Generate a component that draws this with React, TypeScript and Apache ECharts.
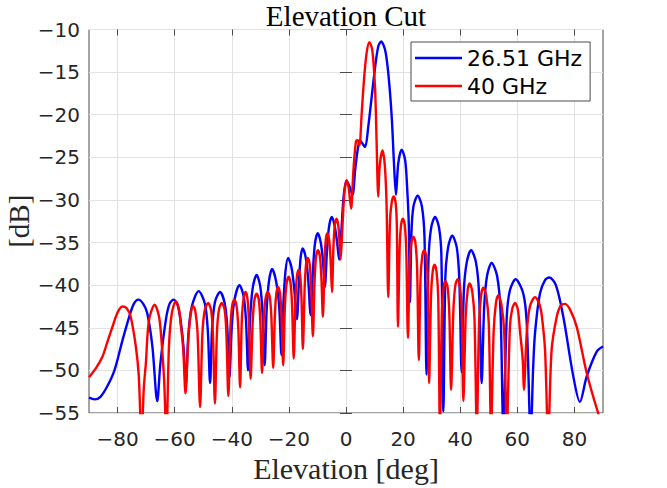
import React, { useEffect, useRef } from "react";
import * as echarts from "echarts";

const xTicks = [-80, -60, -40, -20, 0, 20, 40, 60, 80];
const yMin = -55;
const yMax = -10;
const yStep = 5;
const titleText = "Elevation Cut";
const xName = "Elevation [deg]";
const yName = "[dB]";
const seriesNames = ["26.51 GHz", "40 GHz"];

// 26.51 GHz cut, [deg, dB]
const blue: number[][] = [
  [-90, -53.2], [-88, -53.4], [-86, -53.1], [-83.5, -51.8], [-81, -49.9], [-78.3, -46.5],
  [-76, -43.8], [-74.3, -42.2], [-72.7, -41.7], [-71, -42.2], [-69.6, -43.3], [-67.8, -47.2],
  [-66.1, -53.6], [-65, -49.2], [-63.1, -44.1], [-61.8, -42.2], [-60.4, -41.7], [-59, -42.3],
  [-57.9, -44.2], [-56.9, -47.3], [-56.1, -51.8],
  [-55.2, -45.8], [-54, -42.5], [-51.6, -40.7], [-49.4, -42.2], [-48.4, -45.3], [-47.6, -51.5],
  [-46.9, -45.2], [-45.9, -42], [-44.1, -40.8], [-42.5, -42.1], [-41.6, -44.8], [-40.8, -50.8],
  [-40.1, -45.5], [-39.2, -42], [-37.3, -40], [-35.8, -41.4], [-35, -44.3], [-34.3, -50],
  [-33.6, -44], [-32.7, -40.4], [-31.3, -38.8], [-30, -40.2], [-29.2, -43.5], [-28.5, -49.4],
  [-27.8, -43], [-27, -39.6], [-25.9, -38.1], [-24.5, -39.5], [-23.4, -42.5], [-22.6, -48.2],
  [-21.9, -42], [-21.2, -38.4], [-20.3, -36.8], [-19.1, -37.9], [-18.1, -40.5], [-17.2, -44],
  [-16.5, -39.8], [-15.9, -36.8], [-15.2, -35.7], [-14.2, -36.6], [-13.3, -39], [-12.4, -43.5],
  [-11.6, -38.5], [-10.9, -35.2], [-9.9, -33.9], [-8.9, -34.9], [-8.1, -37], [-7.4, -40.2],
  [-6.7, -36.2], [-6, -33.3], [-5, -32], [-4, -33], [-3.1, -35], [-2.4, -37],
  [-1.6, -33.5], [-0.8, -29.5], [0.2, -27.7], [1.2, -28.4], [2.3, -29.4], [3.2, -26.5],
  [4.1, -24.1], [4.9, -23], [5.8, -23.4], [6.7, -23.8], [7.8, -21.4], [9, -17.9],
  [10.2, -14.4], [11.3, -12], [12.3, -11.4], [13.7, -12.4], [14.8, -15.1], [16, -20.2],
  [16.8, -25.7], [17.5, -29.4], [18.3, -25.7], [19.5, -24.1], [20.7, -25.3], [21.4, -28.5],
  [22, -33], [22.4, -42], [22.9, -34], [23.6, -30.8], [25.1, -29.5], [26.6, -30.8],
  [27.5, -34.5], [28.2, -50.5], [28.9, -37], [29.8, -33.3], [31.2, -32], [32.6, -33.3],
  [33.4, -36.5], [34.1, -54.8], [34.8, -39], [35.8, -35.5], [37.2, -34.2], [38.8, -35.6],
  [39.7, -39.5], [40.5, -50.2], [41.3, -40.5], [42.3, -37.3], [43.8, -35.9], [45.5, -37.3],
  [46.6, -41], [47.5, -51.5], [48.4, -42.5], [49.4, -38.9], [51, -37.4], [52.9, -38.9],
  [54.1, -43], [55.1, -57], [56.3, -43.7], [57.4, -40.6], [59.4, -39.3], [62.1, -41],
  [63.3, -44.5], [64.7, -58], [65.5, -50], [66.2, -45.6], [67.9, -41], [69.7, -39.4],
  [71.2, -39.1], [73.5, -40], [76.1, -43.7], [79.6, -50.7], [81.9, -53.7], [84.3, -50.7],
  [87.8, -47.8], [90, -47.2],
];

// 40 GHz cut, [deg, dB]
const red: number[][] = [
  [-90, -50.8], [-87.5, -49.7], [-85.3, -48.4], [-83.5, -46.6], [-81.8, -44.9], [-80, -43.2],
  [-78.3, -42.5], [-76.8, -42.7], [-75.4, -43.7], [-73.6, -47.2], [-72.6, -50.5], [-71.6, -58],
  [-70.8, -52], [-70.1, -49.2], [-69, -44.1], [-67, -42.3], [-65.6, -43.5], [-64.9, -45.3],
  [-63.7, -51.1], [-62.9, -58], [-62, -47.2], [-61, -43.3], [-59.6, -41.9], [-58.5, -42.8],
  [-57.9, -44.5], [-57, -47.5], [-56.2, -52.7], [-55.4, -47.5], [-55, -45.3], [-54.3, -43.2],
  [-53.6, -42.4], [-52.8, -43], [-52, -45.5], [-51.1, -54.3],
  [-50.3, -45.8], [-49.5, -43], [-48.3, -42.1], [-47.2, -43], [-46.6, -45.8], [-45.9, -53.9],
  [-45.2, -45.6], [-44.5, -42.9], [-43.5, -42.1], [-42.5, -42.9], [-41.9, -45.6], [-41.2, -53],
  [-40.5, -45.2], [-39.9, -42.5], [-39.1, -41.7], [-38.3, -42.5], [-37.7, -45.2], [-37.1, -52],
  [-36.5, -44.3], [-35.9, -41.6], [-35.2, -40.8], [-34.5, -41.6], [-34, -44.3], [-33.4, -51],
  [-32.7, -44.5], [-32.1, -41.8], [-31.3, -41], [-30.5, -41.8], [-30, -44.3], [-29.4, -50.3],
  [-28.8, -44], [-28.2, -41.6], [-27.4, -40.8], [-26.6, -41.6], [-26.1, -44], [-25.5, -49.7],
  [-24.9, -43.5], [-24.4, -41], [-23.8, -40.2], [-23.1, -41], [-22.6, -43.5], [-22, -49.4],
  [-21.4, -42.5], [-20.8, -39.8], [-20.1, -39], [-19.4, -39.8], [-18.9, -42.3], [-18.3, -48.6],
  [-17.7, -41.8], [-17.2, -39], [-16.6, -38.2], [-16, -39], [-15.6, -41.5], [-15.1, -47.5],
  [-14.5, -40.5], [-14, -37.6], [-13.4, -36.8], [-12.7, -37.6], [-12.2, -40.2], [-11.6, -46],
  [-11, -39.5], [-10.5, -36.7], [-9.8, -35.9], [-9.1, -36.7], [-8.6, -39.3], [-8.1, -43.7],
  [-7.5, -37.3], [-7.1, -34.7], [-6.5, -33.9], [-5.9, -34.7], [-5.4, -37], [-4.9, -40.8],
  [-4.4, -35.5], [-3.9, -32.9], [-3.3, -32.2], [-2.7, -33], [-2.3, -34.8], [-1.9, -37],
  [-1.3, -33.5], [-0.6, -29.3], [0.2, -27.7], [0.9, -28.5], [1.4, -30], [1.8, -31],
  [2.6, -26.5], [3.5, -23.1], [4.1, -23], [4.7, -23.6], [5.5, -19.8], [6.3, -15.9],
  [7.2, -12.8], [8.2, -11.5], [9.2, -12.4], [10.2, -17.1], [10.7, -23], [11.3, -29.6],
  [11.8, -26], [12.8, -24.2], [13.6, -26], [14.2, -30.5], [14.8, -41.4],
  [15.4, -32.5], [16, -30.3], [16.7, -29.6], [17.4, -30.4], [17.8, -33], [18.2, -44.9],
  [18.8, -35.5], [19.3, -32.9], [19.9, -32.2], [20.6, -33], [21.1, -36], [21.7, -46.2],
  [22.3, -37.5], [22.9, -35], [23.6, -34.3], [24.3, -35], [24.9, -38], [25.5, -48.8],
  [26.1, -39.3], [26.7, -36.6], [27.4, -35.9], [28.1, -36.7], [28.6, -39.5], [29.1, -51.5],
  [29.8, -41], [30.4, -38.3], [31, -37.6], [31.7, -38.4], [32.3, -41.5], [32.9, -57],
  [33.6, -43], [34.2, -40.2], [34.8, -39.5], [35.6, -40.3], [36.2, -43.5], [36.8, -52.3],
  [37.6, -43], [38.3, -40], [39.1, -39.3], [39.9, -40.1], [40.5, -43.3], [41.1, -53.6],
  [41.9, -43.8], [42.6, -40.6], [43.3, -39.8], [44.2, -40.7], [45, -44], [45.8, -57],
  [46.6, -44.5], [47.3, -41.2], [48.1, -40.3], [49.1, -41.2], [50, -44.5], [50.8, -57],
  [51.7, -45.5], [52.5, -42.1], [53.3, -41.2], [54.4, -42.2], [55.4, -45.5], [56.3, -57],
  [57.4, -44.9], [58.2, -42.8], [59.2, -42.1], [60.2, -42.9], [60.9, -45.3], [61.9, -48.8],
  [62.3, -52.3], [63.3, -45.6], [64.4, -42.5], [66.2, -41.4], [67.8, -42.3], [68.6, -43.7],
  [69.7, -47.6], [70.8, -58], [72, -47.6], [73.8, -43.7], [75.2, -42.4], [76.7, -42.2],
  [78.5, -42.9], [80.8, -44.9], [84.3, -50.3], [88.3, -55], [90, -56.5],
];

const AXIS = "#4a4a4a";
const GRID = "#e2e2e2";
const TICKFONT = "DejaVu Sans";
const SERIF = "Liberation Serif";

const minus = (v: number) => String(v).replace("-", "\u2212");

export default function App() {
  const ref = useRef<HTMLDivElement>(null);
  useEffect(() => {
    if (!ref.current) return;
    const chart = echarts.init(ref.current, null, { renderer: "svg" });
    const tickCommon = { show: true, inside: true, length: 6, lineStyle: { color: AXIS, width: 1 } };
    chart.setOption({
      animation: false,
      backgroundColor: "#ffffff",
      grid: {
        left: 89, right: 64, top: 29.5, bottom: 75,
        outerBoundsMode: "none", containLabel: false,
        show: true, borderColor: AXIS, borderWidth: 1, backgroundColor: "#ffffff",
      },
      graphic: [
        {
          type: "text", x: 346, y: 15.5, z: 10,
          style: {
            text: titleText, fill: "#000", align: "center", verticalAlign: "middle",
            font: `29px "${SERIF}"`,
          },
        },
      ],
      legend: {
        orient: "vertical", left: 411, top: 42,
        padding: [5, 8, 4, 4], itemGap: 6, itemWidth: 47, itemHeight: 2.5,
        icon: "rect",
        backgroundColor: "#ffffff", borderColor: AXIS, borderWidth: 1, borderRadius: 0,
        textStyle: { fontFamily: TICKFONT, fontSize: 22, color: "#000", lineHeight: 22 },
        data: seriesNames,
      },
      xAxis: [
        {
          type: "value", min: -90, max: 90, position: "bottom",
          axisLine: { show: false },
          axisTick: { ...tickCommon, customValues: xTicks },
          axisLabel: {
            customValues: xTicks, margin: 16, fontFamily: TICKFONT, fontSize: 20, color: "#262626",
            formatter: (v: number) => minus(v),
          },
          splitLine: { show: true, lineStyle: { color: GRID, width: 1 } },
          name: xName, nameLocation: "middle", nameGap: 40, nameMoveOverlap: false,
          nameTextStyle: { fontFamily: SERIF, fontSize: 30, color: "#262626" },
        },
        {
          type: "value", min: -90, max: 90, position: "top",
          axisLine: { show: false },
          axisTick: { ...tickCommon, customValues: xTicks },
          axisLabel: { show: false, customValues: xTicks },
          splitLine: { show: false },
        },
      ],
      yAxis: [
        {
          type: "value", min: yMin, max: yMax, interval: yStep, position: "left",
          axisLine: { show: false },
          axisTick: tickCommon,
          axisLabel: {
            margin: 9, fontFamily: TICKFONT, fontSize: 20, color: "#262626",
            formatter: (v: number) => minus(v),
          },
          splitLine: { show: true, lineStyle: { color: GRID, width: 1 } },
          name: yName, nameLocation: "middle", nameGap: 56, nameMoveOverlap: false,
          nameTextStyle: { fontFamily: SERIF, fontSize: 29, color: "#262626" },
        },
        {
          type: "value", min: yMin, max: yMax, interval: yStep, position: "right",
          axisLine: { show: false },
          axisTick: tickCommon,
          axisLabel: { show: false },
          splitLine: { show: false },
        },
      ],
      series: [
        {
          type: "line", name: seriesNames[0], data: blue, xAxisIndex: 0, yAxisIndex: 0,
          symbol: "none", showSymbol: false, clip: true, smooth: 0.3,
          lineStyle: { color: "#0000ff", width: 2.4 }, itemStyle: { color: "#0000ff" }, z: 2,
        },
        {
          type: "line", name: seriesNames[1], data: red, xAxisIndex: 0, yAxisIndex: 0,
          symbol: "none", showSymbol: false, clip: true, smooth: 0.3,
          lineStyle: { color: "#ff0000", width: 2.4 }, itemStyle: { color: "#ff0000" }, z: 3,
        },
      ],
    });
    return () => chart.dispose();
  }, []);
  return (
    <div
      ref={ref}
      style={{ position: "fixed", left: 0, top: 0, width: 667, height: 488, background: "#fff" }}
    />
  );
}
